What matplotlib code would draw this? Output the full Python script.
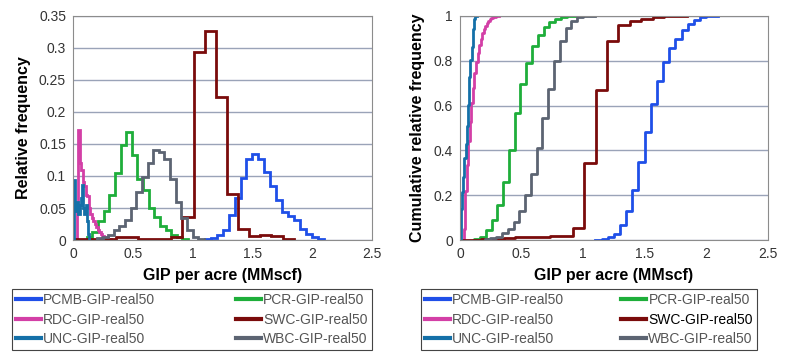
import numpy as np
import matplotlib.pyplot as plt
from matplotlib.ticker import FuncFormatter

plt.rcParams['font.family'] = ['Liberation Sans', 'DejaVu Sans']

# histogram bins: first bin edge, bin width, relative frequency per bin
pcmb_start, pcmb_width = 1.10, 0.05
pcmb_freq = [0.001, 0.003, 0.008, 0.016, 0.039, 0.065, 0.097, 0.127, 0.135, 0.127,
             0.107, 0.085, 0.062, 0.044, 0.038, 0.031, 0.018, 0.010, 0.005, 0.002]

pcr_start, pcr_width = 0.115, 0.047
pcr_freq = [0.004, 0.012, 0.030, 0.045, 0.070, 0.105, 0.148, 0.168, 0.133, 0.095,
            0.078, 0.050, 0.036, 0.022, 0.015, 0.008, 0.004, 0.002]

rdc_start, rdc_width = 0.03, 0.0125
rdc_freq = [0.050, 0.172, 0.120, 0.110, 0.090, 0.085, 0.070, 0.068, 0.050, 0.040,
            0.035, 0.030, 0.025, 0.020, 0.016, 0.012, 0.010, 0.007, 0.005, 0.004,
            0.003, 0.002, 0.001]

swc_start, swc_width = -0.015, 0.093
swc_freq = [0.001, 0.001, 0.001, 0.001, 0.004, 0.004, 0.001, 0.001, 0.002, 0.004,
            0.036, 0.294, 0.326, 0.224, 0.072, 0.018, 0.007, 0.008, 0.006, 0.001]

unc_start, unc_width = 0.005, 0.01
unc_freq = [0.094, 0.052, 0.045, 0.060, 0.040, 0.055, 0.065, 0.086, 0.050, 0.040,
            0.055, 0.030, 0.010]

wbc_start, wbc_width = 0.20, 0.047
wbc_freq = [0.003, 0.005, 0.008, 0.015, 0.022, 0.032, 0.050, 0.075, 0.098, 0.120,
            0.140, 0.137, 0.127, 0.095, 0.060, 0.035, 0.015, 0.005, 0.002]

series = [
    ("PCMB-GIP-real50", pcmb_start, pcmb_width, pcmb_freq, '#1f4fe8'),
    ("PCR-GIP-real50", pcr_start, pcr_width, pcr_freq, '#1eae3a'),
    ("RDC-GIP-real50", rdc_start, rdc_width, rdc_freq, '#d33fa6'),
    ("SWC-GIP-real50", swc_start, swc_width, swc_freq, '#7a0b0b'),
    ("UNC-GIP-real50", unc_start, unc_width, unc_freq, '#1470a8'),
    ("WBC-GIP-real50", wbc_start, wbc_width, wbc_freq, '#5c6472'),
]

fig = plt.figure(figsize=(7.87, 3.53), dpi=100)
ax1 = fig.add_axes([0.0928, 0.32, 0.380, 0.635])
ax2 = fig.add_axes([0.5845, 0.32, 0.391, 0.635])

handles = {}
for name, start, width, freq, c in series:
    freq = np.array(freq)
    edges = start + width * np.arange(len(freq) + 1)
    ax1.stairs(freq, edges, baseline=0, color=c, lw=2)
    cum = np.cumsum(freq) / freq.sum()
    x = np.r_[edges[0], edges]
    y = np.r_[0, cum, cum[-1]]
    h, = ax2.step(x, y, where='post', color=c, lw=2, label=name)
    handles[name] = h

fmt = FuncFormatter(lambda v, p: '%g' % round(v, 3))
for ax, ymax, ystep, ylab in [(ax1, 0.35, 0.05, 'Relative frequency'),
                              (ax2, 1.0, 0.2, 'Cumulative relative frequency')]:
    ax.set_xlim(0, 2.5)
    ax.set_ylim(0, ymax)
    ax.set_xticks(np.arange(0, 2.51, 0.5))
    ax.set_yticks(np.arange(0, ymax + 1e-9, ystep))
    ax.xaxis.set_major_formatter(fmt)
    ax.yaxis.set_major_formatter(fmt)
    ax.tick_params(length=0, labelsize=10, colors='#333333', pad=5)
    ax.grid(axis='y', color='#9aa3b8', lw=1)
    ax.set_axisbelow(True)
    for s in ax.spines.values():
        s.set_color('#8c8c8c')
    ax.set_xlabel('GIP per acre (MMscf)', fontsize=11.5, fontweight='bold', labelpad=5)
    ax.set_ylabel(ylab, fontsize=11.5, fontweight='bold', labelpad=6)

order = ["PCMB-GIP-real50", "RDC-GIP-real50", "UNC-GIP-real50",
         "PCR-GIP-real50", "SWC-GIP-real50", "WBC-GIP-real50"]
for ax, box in [(ax1, (0.0152, 0.0085, 0.457, 0.16)), (ax2, (0.535, 0.0085, 0.427, 0.16))]:
    leg = ax.legend([handles[n] for n in order], order, ncol=2, mode='expand',
                    loc='lower left', bbox_to_anchor=box, bbox_transform=fig.transFigure,
                    fancybox=False, framealpha=1, edgecolor='#444444',
                    handlelength=1.8, handletextpad=0.15, borderaxespad=0,
                    labelspacing=0.38, borderpad=0.3,
                    prop={'size': 10})
    leg.get_frame().set_linewidth(0.8)
    for t in leg.get_texts():
        t.set_color('#555555')
    for l in leg.get_lines():
        l.set_linewidth(3)
    if ax is ax2:
        leg.get_texts()[4].set_color('#000000')

fig.savefig('out.png', dpi=100)
